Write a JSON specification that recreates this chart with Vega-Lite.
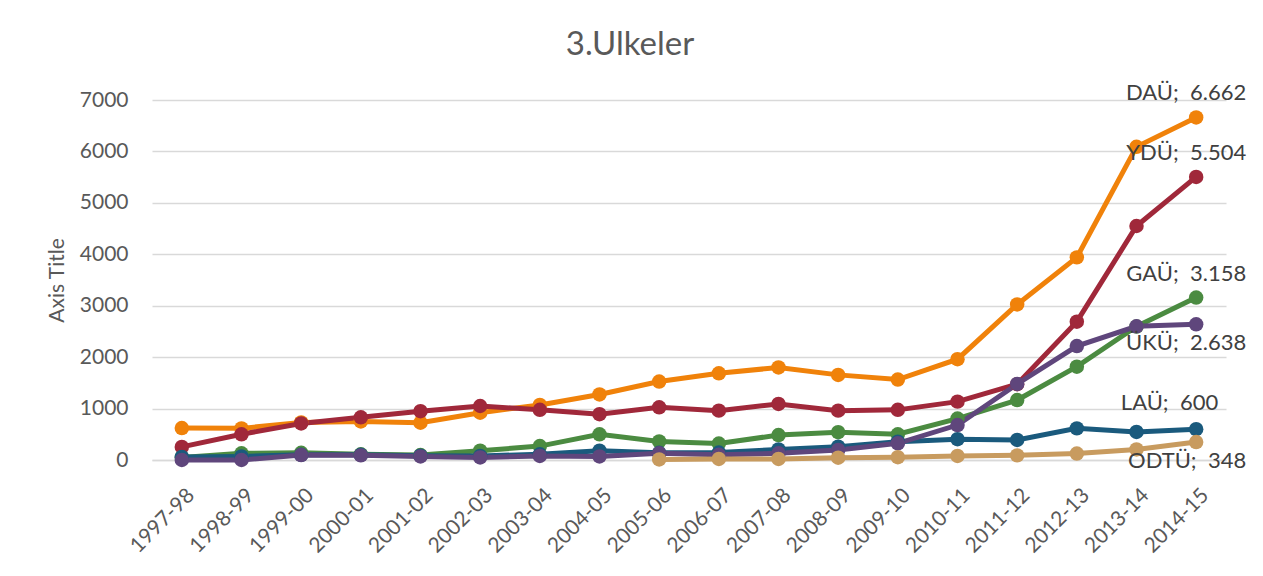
{
  "$schema": "https://vega.github.io/schema/vega-lite/v6.json",
  "width": 1074,
  "height": 360,
  "autosize": {"type": "none"},
  "padding": {"left": 152, "top": 100, "right": 37, "bottom": 116},
  "background": "white",
  "title": {
    "text": "3.Ulkeler",
    "font": "Lato",
    "fontSize": 33,
    "fontWeight": "normal",
    "color": "#595959",
    "anchor": "middle",
    "dx": -59,
    "offset": 20
  },
  "config": {
    "view": {"stroke": null},
    "font": "Lato"
  },
  "data": {
    "values": [
      {"year": "1997-98", "series": "DAÜ", "value": 620},
      {"year": "1998-99", "series": "DAÜ", "value": 615},
      {"year": "1999-00", "series": "DAÜ", "value": 730},
      {"year": "2000-01", "series": "DAÜ", "value": 750},
      {"year": "2001-02", "series": "DAÜ", "value": 725},
      {"year": "2002-03", "series": "DAÜ", "value": 920},
      {"year": "2003-04", "series": "DAÜ", "value": 1070},
      {"year": "2004-05", "series": "DAÜ", "value": 1275},
      {"year": "2005-06", "series": "DAÜ", "value": 1525},
      {"year": "2006-07", "series": "DAÜ", "value": 1685},
      {"year": "2007-08", "series": "DAÜ", "value": 1800},
      {"year": "2008-09", "series": "DAÜ", "value": 1655},
      {"year": "2009-10", "series": "DAÜ", "value": 1565},
      {"year": "2010-11", "series": "DAÜ", "value": 1960},
      {"year": "2011-12", "series": "DAÜ", "value": 3025},
      {"year": "2012-13", "series": "DAÜ", "value": 3940},
      {"year": "2013-14", "series": "DAÜ", "value": 6090},
      {"year": "2014-15", "series": "DAÜ", "value": 6662},
      {"year": "1997-98", "series": "YDÜ", "value": 255},
      {"year": "1998-99", "series": "YDÜ", "value": 500},
      {"year": "1999-00", "series": "YDÜ", "value": 710},
      {"year": "2000-01", "series": "YDÜ", "value": 830},
      {"year": "2001-02", "series": "YDÜ", "value": 950},
      {"year": "2002-03", "series": "YDÜ", "value": 1050},
      {"year": "2003-04", "series": "YDÜ", "value": 975},
      {"year": "2004-05", "series": "YDÜ", "value": 890},
      {"year": "2005-06", "series": "YDÜ", "value": 1025},
      {"year": "2006-07", "series": "YDÜ", "value": 960},
      {"year": "2007-08", "series": "YDÜ", "value": 1090},
      {"year": "2008-09", "series": "YDÜ", "value": 960},
      {"year": "2009-10", "series": "YDÜ", "value": 975},
      {"year": "2010-11", "series": "YDÜ", "value": 1135},
      {"year": "2011-12", "series": "YDÜ", "value": 1475},
      {"year": "2012-13", "series": "YDÜ", "value": 2690},
      {"year": "2013-14", "series": "YDÜ", "value": 4550},
      {"year": "2014-15", "series": "YDÜ", "value": 5504},
      {"year": "1997-98", "series": "GAÜ", "value": 50},
      {"year": "1998-99", "series": "GAÜ", "value": 130},
      {"year": "1999-00", "series": "GAÜ", "value": 140},
      {"year": "2000-01", "series": "GAÜ", "value": 110},
      {"year": "2001-02", "series": "GAÜ", "value": 95},
      {"year": "2002-03", "series": "GAÜ", "value": 180},
      {"year": "2003-04", "series": "GAÜ", "value": 270},
      {"year": "2004-05", "series": "GAÜ", "value": 500},
      {"year": "2005-06", "series": "GAÜ", "value": 360},
      {"year": "2006-07", "series": "GAÜ", "value": 320},
      {"year": "2007-08", "series": "GAÜ", "value": 485},
      {"year": "2008-09", "series": "GAÜ", "value": 540},
      {"year": "2009-10", "series": "GAÜ", "value": 500},
      {"year": "2010-11", "series": "GAÜ", "value": 805},
      {"year": "2011-12", "series": "GAÜ", "value": 1165},
      {"year": "2012-13", "series": "GAÜ", "value": 1815},
      {"year": "2013-14", "series": "GAÜ", "value": 2595},
      {"year": "2014-15", "series": "GAÜ", "value": 3158},
      {"year": "1997-98", "series": "LAÜ", "value": 60},
      {"year": "1998-99", "series": "LAÜ", "value": 70},
      {"year": "1999-00", "series": "LAÜ", "value": 100},
      {"year": "2000-01", "series": "LAÜ", "value": 100},
      {"year": "2001-02", "series": "LAÜ", "value": 85},
      {"year": "2002-03", "series": "LAÜ", "value": 80},
      {"year": "2003-04", "series": "LAÜ", "value": 110},
      {"year": "2004-05", "series": "LAÜ", "value": 180},
      {"year": "2005-06", "series": "LAÜ", "value": 140},
      {"year": "2006-07", "series": "LAÜ", "value": 145},
      {"year": "2007-08", "series": "LAÜ", "value": 205},
      {"year": "2008-09", "series": "LAÜ", "value": 260},
      {"year": "2009-10", "series": "LAÜ", "value": 355},
      {"year": "2010-11", "series": "LAÜ", "value": 405},
      {"year": "2011-12", "series": "LAÜ", "value": 390},
      {"year": "2012-13", "series": "LAÜ", "value": 615},
      {"year": "2013-14", "series": "LAÜ", "value": 545},
      {"year": "2014-15", "series": "LAÜ", "value": 600},
      {"year": "1997-98", "series": "ÜKÜ", "value": 0},
      {"year": "1998-99", "series": "ÜKÜ", "value": 0},
      {"year": "1999-00", "series": "ÜKÜ", "value": 95},
      {"year": "2000-01", "series": "ÜKÜ", "value": 90},
      {"year": "2001-02", "series": "ÜKÜ", "value": 70},
      {"year": "2002-03", "series": "ÜKÜ", "value": 50},
      {"year": "2003-04", "series": "ÜKÜ", "value": 80},
      {"year": "2004-05", "series": "ÜKÜ", "value": 70},
      {"year": "2005-06", "series": "ÜKÜ", "value": 130},
      {"year": "2006-07", "series": "ÜKÜ", "value": 100},
      {"year": "2007-08", "series": "ÜKÜ", "value": 130},
      {"year": "2008-09", "series": "ÜKÜ", "value": 195},
      {"year": "2009-10", "series": "ÜKÜ", "value": 325},
      {"year": "2010-11", "series": "ÜKÜ", "value": 680},
      {"year": "2011-12", "series": "ÜKÜ", "value": 1478},
      {"year": "2012-13", "series": "ÜKÜ", "value": 2215},
      {"year": "2013-14", "series": "ÜKÜ", "value": 2600},
      {"year": "2014-15", "series": "ÜKÜ", "value": 2638},
      {"year": "2005-06", "series": "ODTÜ", "value": 10},
      {"year": "2006-07", "series": "ODTÜ", "value": 20},
      {"year": "2007-08", "series": "ODTÜ", "value": 20},
      {"year": "2008-09", "series": "ODTÜ", "value": 45},
      {"year": "2009-10", "series": "ODTÜ", "value": 55},
      {"year": "2010-11", "series": "ODTÜ", "value": 80},
      {"year": "2011-12", "series": "ODTÜ", "value": 90},
      {"year": "2012-13", "series": "ODTÜ", "value": 125},
      {"year": "2013-14", "series": "ODTÜ", "value": 205},
      {"year": "2014-15", "series": "ODTÜ", "value": 348}
    ]
  },
  "encoding": {
    "x": {
      "field": "year",
      "type": "ordinal",
      "sort": null,
      "scale": {"type": "point", "padding": 0.5},
      "axis": {
        "title": null,
        "labelAngle": -45,
        "labelAlign": "right",
        "labelBaseline": "middle",
        "labelFont": "Lato",
        "labelFontSize": 21,
        "labelColor": "#595959",
        "labelPadding": 32,
        "labelOffset": 9,
        "ticks": false,
        "domain": true,
        "domainColor": "#D9D9D9",
        "domainWidth": 1.5,
        "grid": false
      }
    },
    "y": {
      "field": "value",
      "type": "quantitative",
      "scale": {"domain": [0, 7000], "nice": false},
      "axis": {
        "title": "Axis Title",
        "titleFont": "Lato",
        "titleFontSize": 21,
        "titleFontWeight": "normal",
        "titleColor": "#595959",
        "titlePadding": 12,
        "values": [0, 1000, 2000, 3000, 4000, 5000, 6000, 7000],
        "format": "d",
        "labelFont": "Lato",
        "labelFontSize": 21,
        "labelColor": "#595959",
        "labelPadding": 24,
        "ticks": false,
        "domain": false,
        "grid": true,
        "gridColor": "#D9D9D9",
        "gridWidth": 1.5
      }
    },
    "color": {
      "field": "series",
      "type": "nominal",
      "legend": null,
      "scale": {
        "domain": ["DAÜ", "YDÜ", "GAÜ", "LAÜ", "ÜKÜ", "ODTÜ"],
        "range": ["#F0820A", "#A0283A", "#4B8B41", "#1A5A7D", "#5F467C", "#C89B5F"]
      }
    }
  },
  "layer": [
    {"mark": {"type": "line", "strokeWidth": 5}},
    {"mark": {"type": "point", "filled": true, "size": 210, "opacity": 1}},
    {
      "transform": [
        {"filter": "datum.year === '2014-15' && (datum.series === 'DAÜ' || datum.series === 'YDÜ' || datum.series === 'GAÜ')"},
        {"calculate": "datum.series + ';\u00a0 ' + replace(format(datum.value, ','), ',', '.')", "as": "label"}
      ],
      "mark": {"type": "text", "align": "right", "baseline": "middle", "dx": 50, "dy": -24, "font": "Lato", "fontSize": 22},
      "encoding": {"text": {"field": "label"}, "color": {"value": "#404040"}}
    },
    {
      "transform": [
        {"filter": "datum.year === '2014-15' && (datum.series === 'ÜKÜ' || datum.series === 'ODTÜ')"},
        {"calculate": "datum.series + ';\u00a0 ' + replace(format(datum.value, ','), ',', '.')", "as": "label"}
      ],
      "mark": {"type": "text", "align": "right", "baseline": "middle", "dx": 50, "dy": 19, "font": "Lato", "fontSize": 22},
      "encoding": {"text": {"field": "label"}, "color": {"value": "#404040"}}
    },
    {
      "transform": [
        {"filter": "datum.year === '2014-15' && datum.series === 'LAÜ'"},
        {"calculate": "datum.series + ';\u00a0 ' + replace(format(datum.value, ','), ',', '.')", "as": "label"}
      ],
      "mark": {"type": "text", "align": "right", "baseline": "middle", "dx": 22, "dy": -26, "font": "Lato", "fontSize": 22},
      "encoding": {"text": {"field": "label"}, "color": {"value": "#404040"}}
    }
  ]
}
